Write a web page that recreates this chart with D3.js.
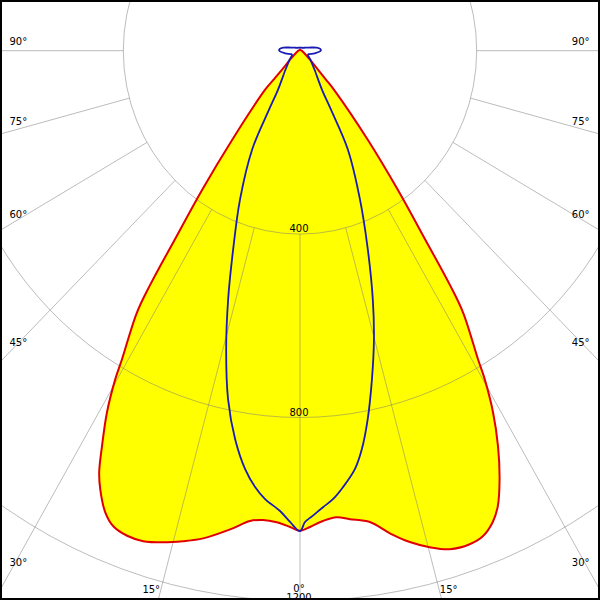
<!DOCTYPE html>
<html><head><meta charset="utf-8">
<script src="https://cdn.jsdelivr.net/npm/d3@7/dist/d3.min.js"></script>
<style>html,body{margin:0;padding:0;background:#fff;}svg{display:block;}</style>
</head><body>
<svg id="chart" width="600" height="600"></svg>
<script>
// Luminous intensity (cd/klm); angle in degrees from nadir (0° = down)
const c0Angles   = [0,1.25,2.9,4.66,6.31,8.75,10.94,13.06,15.18,17.32,19.64,21.34,22.98,24.25,25.8,27.46,28.98,30.26,30.9,32.88,33.6,34.53,36.13,38.31,42.1,43,44.5,49,60,75,90,120,180];
const c0Values   = [1047,1039,1027,1021,1028,1040,1072,1100,1122,1139,1143,1137,1117,1090,1038,972,902,830,785,680,612,501,376,248,115,86,58,30,12,6,4,2,2];
const c180Angles = [0,1.25,2.93,4.67,6.29,8.62,11.65,13.9,16.1,18.35,20.3,22.17,23.65,25.3,26.3,27.46,28.98,30.26,30.9,32.88,33.6,34.53,36.13,38.31,42.9,43.5,44.5,49,60,75,90,120,180];
const c180Values = [1047,1039,1030,1027,1032,1056,1086,1102,1116,1127,1128,1120,1099,1058,1026,972,902,830,785,680,612,501,376,248,116,86,58,30,12,6,4,2,2];
const c90Angles  = [0,0.63,1.53,2.99,4.36,5.83,7.75,9.16,10.8,12.8,14.9,16.9,19.5,22.7,26.7,28.6,30.3,38.4,50,64,70,80,90,95,100,105,110,120,135,150,165,180];
const c90Values  = [1048,1028,1016,997,981,957,921,880,818,735,651,567,460,352,241,146,99,53,31,20,22,34,47,46,38,27,20,13,9,7.5,6.7,6.5];
const c270Angles = [0,1.26,2.58,4.62,6.1,7.75,9.83,12.1,14.4,16.7,19.25,22.7,26.7,28.6,30.3,38.4,50,64,70,80,90,95,100,105,110,120,135,150,165,180];
const c270Values = [1048,1028,1005,981,957,921,860,777,672,566,459,352,241,146,99,53,31,20,22,34,47,46,38,27,20,13,9,7.5,6.7,6.5];

const ringValues  = [400, 800, 1200];
const ringLabels  = ["400", "800", "1200"];
const spokeAngles = [0, 15, 30, 45, 60, 75, 90];
const spokeLabels = ["0°", "15°", "30°", "45°", "60°", "75°", "90°"];

const W = 600, H = 600, CX = 300, CY = 50.7;
const svg = d3.select("#chart");
const x = d3.scaleLinear().domain([-1200, 1200]).range([CX - 530.1, CX + 530.1]);
const y = d3.scaleLinear().domain([0, 1200]).range([CY, CY + 550.2]);
const rad = d => d * Math.PI / 180;

function pts(angles, values, side) {
  return angles.map((a, i) => [side * values[i] * Math.sin(rad(a)), values[i] * Math.cos(rad(a))]);
}
function closedShape(lAng, lVal, rAng, rVal) {
  const left = pts(lAng, lVal, -1).reverse();
  const right = pts(rAng, rVal, 1).slice(1, -1);
  return left.concat(right);
}
const line = d3.line().x(d => x(d[0])).y(d => y(d[1])).curve(d3.curveCatmullRomClosed.alpha(0.5));

svg.append("rect").attr("width", W).attr("height", H).attr("fill", "#fff");

const redPts = closedShape(c180Angles, c180Values, c0Angles, c0Values);
svg.append("path").attr("d", line(redPts)).attr("fill", "#ffff00").attr("stroke", "none");

const grid = svg.append("g").attr("fill", "none").attr("stroke", "#7a7a7a").attr("stroke-opacity", 0.5).attr("stroke-width", 1);
ringValues.forEach(r => {
  grid.append("ellipse").attr("cx", x(0)).attr("cy", y(0))
    .attr("rx", x(r) - x(0)).attr("ry", y(r) - y(0));
});
spokeAngles.forEach(a => {
  [-1, 1].forEach(s => {
    if (a === 0 && s === -1) return;
    const r0 = 400, r1 = 2000;
    grid.append("line")
      .attr("x1", x(s * r0 * Math.sin(rad(a)))).attr("y1", y(r0 * Math.cos(rad(a))))
      .attr("x2", x(s * r1 * Math.sin(rad(a)))).attr("y2", y(r1 * Math.cos(rad(a))));
  });
});

svg.append("path").attr("d", line(redPts)).attr("fill", "none").attr("stroke", "#e00000").attr("stroke-width", 2);
const bluePts = closedShape(c270Angles, c270Values, c90Angles, c90Values);
svg.append("path").attr("d", line(bluePts)).attr("fill", "none").attr("stroke", "#1a1ab4").attr("stroke-width", 1.8);

const txt = svg.append("g").attr("font-family", "DejaVu Sans, Verdana, sans-serif").attr("font-size", 10).attr("fill", "#000");
const ringOffsets = [-2, -1.5, -0.4];
ringValues.forEach((r, i) => {
  txt.append("text").attr("x", x(0) - 1).attr("y", y(r) + ringOffsets[i]).attr("text-anchor", "middle").text(ringLabels[i]);
});
const bottomBase = 592.5;
spokeAngles.forEach((a, i) => {
  if (a === 0) {
    txt.append("text").attr("x", x(0) - 1).attr("y", bottomBase - 0.8).attr("text-anchor", "middle").text(spokeLabels[i]);
  } else if (a < 30) {
    const dv = y.invert(bottomBase);
    const dx = dv * Math.tan(rad(a));
    txt.append("text").attr("x", x(-dx)).attr("y", bottomBase).attr("text-anchor", "end").text(spokeLabels[i]);
    txt.append("text").attr("x", x(dx)).attr("y", bottomBase).attr("text-anchor", "start").text(spokeLabels[i]);
  } else {
    const edge = Math.abs(x.invert(10));
    const dv = a === 90 ? 0 : edge / Math.tan(rad(a));
    const yy = y(dv) - 6;
    txt.append("text").attr("x", 9.5).attr("y", yy).attr("text-anchor", "start").text(spokeLabels[i]);
    txt.append("text").attr("x", 589.5).attr("y", yy).attr("text-anchor", "end").text(spokeLabels[i]);
  }
});

svg.append("rect").attr("x", 1).attr("y", 1).attr("width", W - 2).attr("height", H - 2)
  .attr("fill", "none").attr("stroke", "#000").attr("stroke-width", 2);
</script>
</body></html>
